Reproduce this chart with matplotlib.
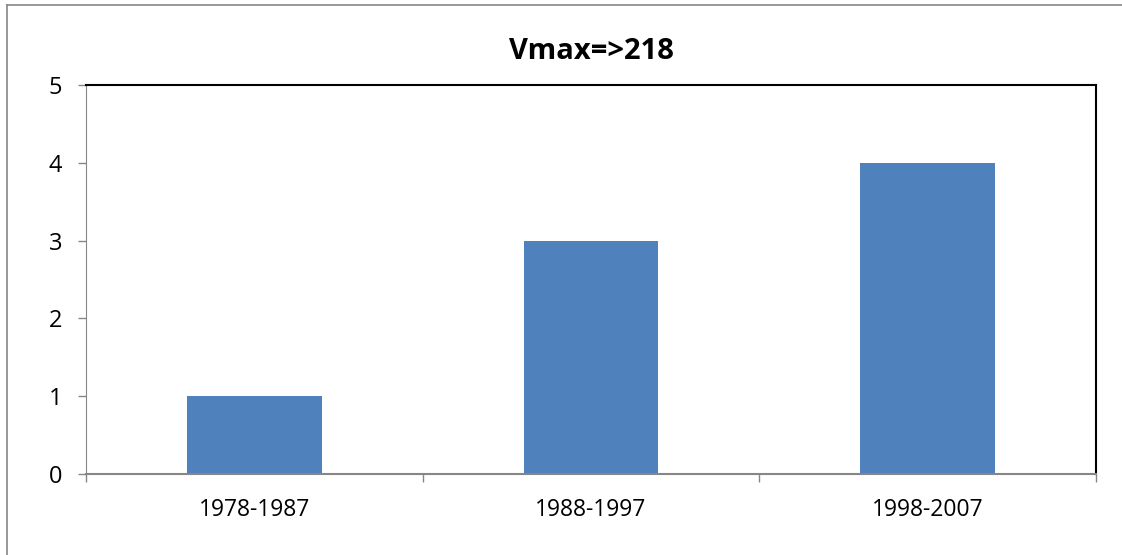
import matplotlib.pyplot as plt
from matplotlib.lines import Line2D

# donnees du graphique
periodes = ["1978-1987", "1988-1997", "1998-2007"]
nombre = [1, 3, 4]
titre = "Vmax=>218"

plt.rcParams['font.family'] = ['Open Sans', 'DejaVu Sans']

fig = plt.figure(figsize=(11.22, 5.55), dpi=100)
ax = fig.add_axes([86 / 1122, (555 - 474) / 555, (1096 - 86) / 1122, (474 - 85) / 555])

x = list(range(len(periodes)))
ax.bar(x, nombre, width=0.4, color="#4F81BD", zorder=2)

ax.set_xlim(-0.5, len(periodes) - 0.5)
ax.set_ylim(0, 5)
ax.set_yticks(range(0, 6))
ax.set_xticks(x)
ax.set_xticklabels(periodes)
ax.set_xticks([i - 0.5 for i in range(len(periodes) + 1)], minor=True)

ax.tick_params(axis='x', which='major', length=0, labelsize=16.5, pad=17)
ax.tick_params(axis='x', which='minor', length=6, color="#868686", width=1)
ax.tick_params(axis='y', length=6, color="#868686", width=1, labelsize=17, pad=11)

ax.spines['left'].set_color("#868686")
ax.spines['bottom'].set_color("#868686")
ax.spines['bottom'].set_linewidth(1.5)
ax.spines['top'].set_color("black")
ax.spines['right'].set_color("black")
ax.spines['top'].set_linewidth(1.5)
ax.spines['right'].set_linewidth(1.5)

ax.set_title(titre, fontsize=21, fontweight='bold', pad=19)

# cadre exterieur (gauche et haut seulement)
fig.add_artist(Line2D([7 / 1122, 7 / 1122], [0, 1 - 5 / 555], color="#868686", lw=1.2))
fig.add_artist(Line2D([7 / 1122, 1], [1 - 5 / 555, 1 - 5 / 555], color="#868686", lw=1.2))

fig.savefig("out.png", dpi=100)
